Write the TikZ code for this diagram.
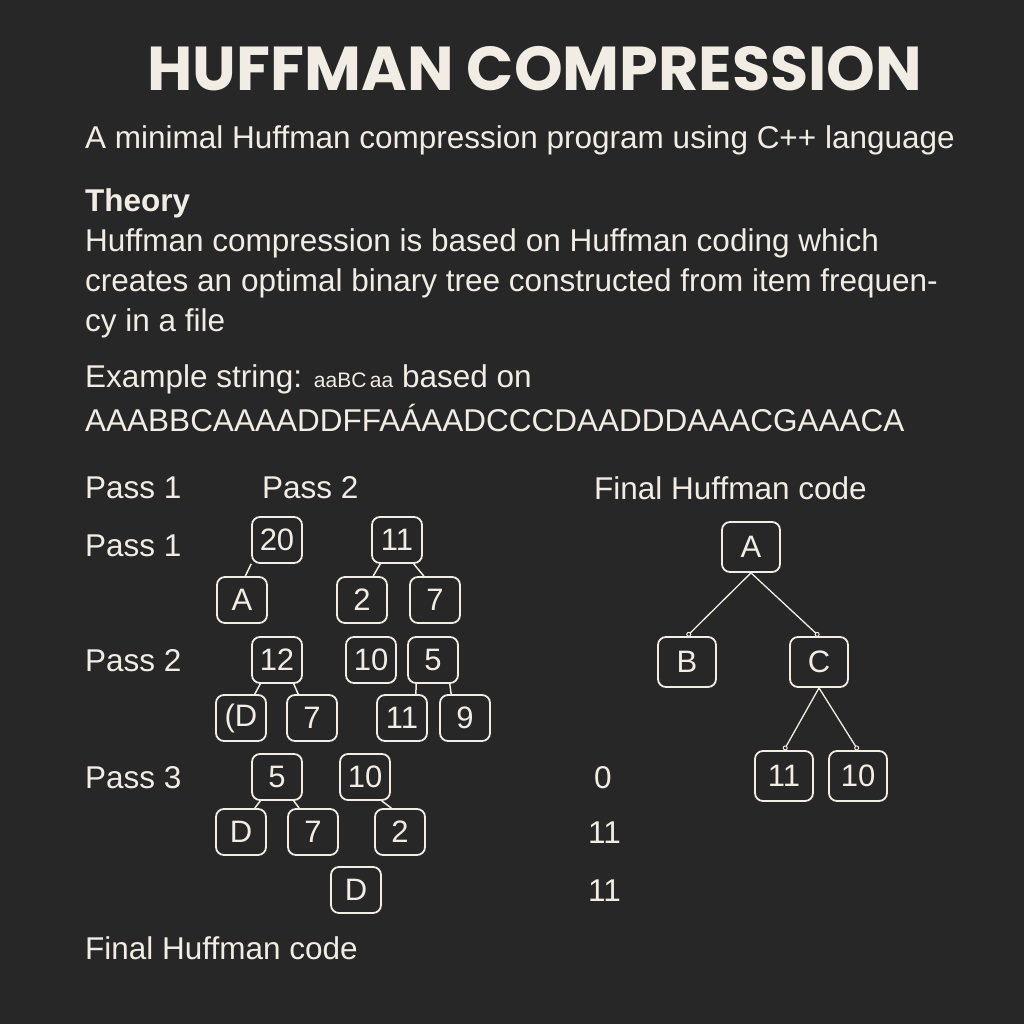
\documentclass[tikz,border=0pt]{standalone}
\usepackage{fontspec}
\setmainfont{Liberation Sans}
\newfontfamily\titlefont{Poppins}
\usetikzlibrary{arrows.meta}
\definecolor{bgdark}{HTML}{272727}
\definecolor{chalk}{HTML}{F1EDE5}
\begin{document}
\begin{tikzpicture}[x=1pt,y=-1pt,>=stealth,
  txt/.style={anchor=west,inner sep=0pt,text=chalk,font=\fontsize{31.5}{36}\selectfont},
  box/.style={draw=chalk,line width=1.8pt,rounded corners=8pt,minimum width=50pt,minimum height=46pt,inner sep=0pt,text=chalk,font=\fontsize{31}{36}\selectfont},
  bigbox/.style={box,minimum width=58pt,minimum height=50pt},
  edge/.style={draw=chalk,line width=1.5pt},
  tipedge/.style={edge,line width=1.3pt,-{Circle[open,length=5pt,line width=1pt]}}]
\fill[bgdark] (0,0) rectangle (1024,1024);
\useasboundingbox (0,0) rectangle (1024,1024);
% heading and text
\node[inner sep=0pt,text=chalk,font=\titlefont\bfseries\fontsize{62}{70}\selectfont] (title) at (535,69) {HUFFMAN COMPRESSION};
\node[txt] (sub) at (85,140) {A minimal Huffman compression program using C++ language};
\node[txt,font=\bfseries\fontsize{31.5}{36}\selectfont] (theory) at (85,203) {Theory};
\node[txt] (th1) at (85,243) {Huffman compression is based on Huffman coding which};
\node[txt] (th2) at (85,283) {creates an optimal binary tree constructed from item frequen-};
\node[txt] (th3) at (85,323) {cy in a file};
\node[txt] (ex1) at (85,379) {Example string: {\fontsize{21}{24}\selectfont aaBC\,aa} based on};
\node[txt] (ex2) at (85,418) {AAABBCAAAADDFFAÁAADCCCDAADDDAAACGAAACA};
\node[txt] (hp1) at (85,488) {Pass 1};
\node[txt] (hp2) at (262,488) {Pass 2};
\node[txt] (hfin) at (594,488) {Final Huffman code};
\node[txt] (lp1) at (85,546) {Pass 1};
\node[txt] (lp2) at (85,661) {Pass 2};
\node[txt] (lp3) at (85,778) {Pass 3};
\node[txt] (ffin) at (85,948) {Final Huffman code};
\node[txt] (c0) at (594,778) {0};
\node[txt] (c11a) at (588,833) {11};
\node[txt] (c11b) at (588,891) {11};
% pass 1
\node[box] (p20) at (277,540) {20};
\node[box] (p11) at (397,540) {11};
\node[box] (pA) at (242,600) {A};
\node[box] (p2) at (362,600) {2};
\node[box] (p7) at (435,600) {7};
\draw[edge] (p20.south west) -- (pA.82);
\draw[edge] (p11.-125) -- (p2.65);
\draw[edge] (p11.-55) -- (p7.115);
% pass 2
\node[box] (q12) at (277,660) {12};
\node[box] (q10) at (371,660) {10};
\node[box] (q5) at (433,660) {5};
\node[box] (qD) at (241,718) {(D};
\node[box] (q7) at (312,718) {7};
\node[box] (q11) at (402,718) {11};
\node[box] (q9) at (465,718) {9};
\draw[edge] (q12.-125) -- (qD.60);
\draw[edge] (q12.-55) -- (q7.120);
\draw[edge] (q5.-125) -- (q11.60);
\draw[edge] (q5.-55) -- (q9.120);
% pass 3
\node[box] (r5) at (277,777) {5};
\node[box] (r10) at (365,777) {10};
\node[box] (rD) at (241,832) {D};
\node[box] (r7) at (313,832) {7};
\node[box] (r2) at (400,832) {2};
\node[box] (rD2) at (356,890) {D};
\draw[edge] (r5.-125) -- (rD.60);
\draw[edge] (r5.-55) -- (r7.120);
\draw[edge] (r10.-55) -- (r2.110);
% final tree
\node[bigbox] (fA) at (751,547) {A};
\node[bigbox] (fB) at (687,662) {B};
\node[bigbox] (fC) at (819,662) {C};
\node[bigbox] (f11) at (784,776) {11};
\node[bigbox] (f10) at (858,776) {10};
\draw[tipedge] (fA.south) -- (fB.north);
\draw[tipedge] (fA.south) -- (fC.north);
\draw[tipedge] (fC.south) -- (f11.north);
\draw[tipedge] (fC.south) -- (f10.north);
\end{tikzpicture}
\end{document}
